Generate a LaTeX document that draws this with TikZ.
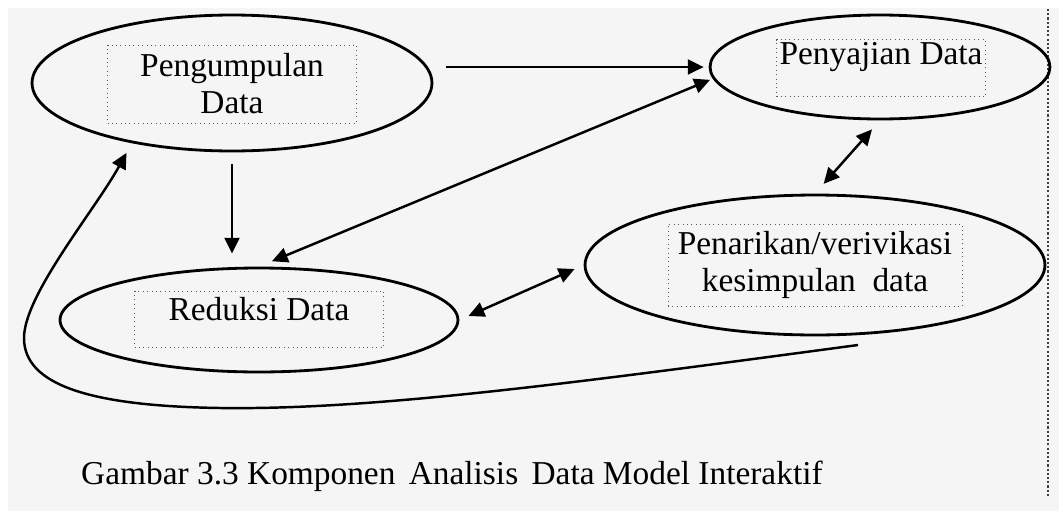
\documentclass[tikz,border=0pt]{standalone}
\usepackage{fontspec}
\setmainfont{Liberation Serif}
\usetikzlibrary{positioning,shapes.geometric,arrows.meta}
\definecolor{pagegray}{RGB}{245,245,245}

\tikzset{
    komp/.style={ellipse, draw, line width=1.6pt, inner sep=0pt},
    kotak/.style={draw=black!65, dotted, line width=0.5pt, inner sep=0pt, align=center,
        font=\fontsize{19}{21}\selectfont},
    panah/.style={-{Triangle[length=9pt,width=8.5pt]}, line width=1.4pt},
    duapanah/.style={{Triangle[length=9pt,width=8.5pt]}-{Triangle[length=9pt,width=8.5pt]}, line width=1.4pt}
}

\begin{document}
\begin{tikzpicture}[x=0.02cm, y=-0.02cm]
    % Page
    \fill[white] (0,0) rectangle (1059,511);
    \fill[pagegray] (8,8) rectangle (1059,511);
    \useasboundingbox (0,0) rectangle (1059,511);
    \draw[dash pattern=on 1.2pt off 1.2pt, black!75, line width=0.6pt] (1048,9) -- (1048,496);

    % Components
    \node[komp, minimum width=8cm, minimum height=2.72cm] (peng) at (232,83) {};
    \node[kotak, minimum width=4.98cm, minimum height=1.56cm] (pengbox) at (232,84) {Pengumpulan\\Data};

    \node[komp, minimum width=6.8cm, minimum height=2.08cm] (saji) at (880,67) {};
    \node[kotak, minimum width=4.18cm, text height=0.5cm, text depth=0.64cm] (sajibox) at (881,68) {Penyajian Data};

    \node[komp, minimum width=7.96cm, minimum height=2.08cm] (red) at (259,320) {};
    \node[kotak, minimum width=4.98cm, text height=0.58cm, text depth=0.54cm] (redbox) at (259,319) {Reduksi Data};

    \node[komp, minimum width=9.2cm, minimum height=2.8cm] (tarik) at (815,265) {};
    \node[kotak, minimum width=5.88cm, minimum height=1.64cm] (tarikbox) at (815,265) {Penarikan/verivikasi\\kesimpulan\ \ data};

    % Arrows
    \draw[panah, shorten <=0.26cm, shorten >=0.1cm] (peng.east |- saji.west) -- (saji.west);
    \draw[panah, shorten <=0.24cm, shorten >=0.26cm] (peng.south) -- (peng.south |- red.north);
    \draw[duapanah, shorten <=0.28cm, shorten >=0.06cm] (red.north) -- (saji.184);
    \draw[duapanah, shorten <=0.24cm, shorten >=0.26cm] (saji.south) -- (tarik.north);
    \draw[duapanah, shorten <=0.2cm, shorten >=0.2cm] (red.east) -- (tarik.west);

    % Loop back
    \coordinate (balik) at (858,345);
    \draw[panah, shorten >=0.22cm] (balik) .. controls (560,385) and (370,410) .. (220,408)
        .. controls (90,406) and (24,385) .. (24,338)
        .. controls (24,295) and (95,210) .. (peng.211);

    % Caption
    \node[anchor=base west, font=\fontsize{19}{23}\selectfont] (cap) at (75,484)
        {Gambar 3.3 Komponen\hspace{0.4em}Analisis\hspace{0.4em}Data Model Interaktif};
\end{tikzpicture}
\end{document}
